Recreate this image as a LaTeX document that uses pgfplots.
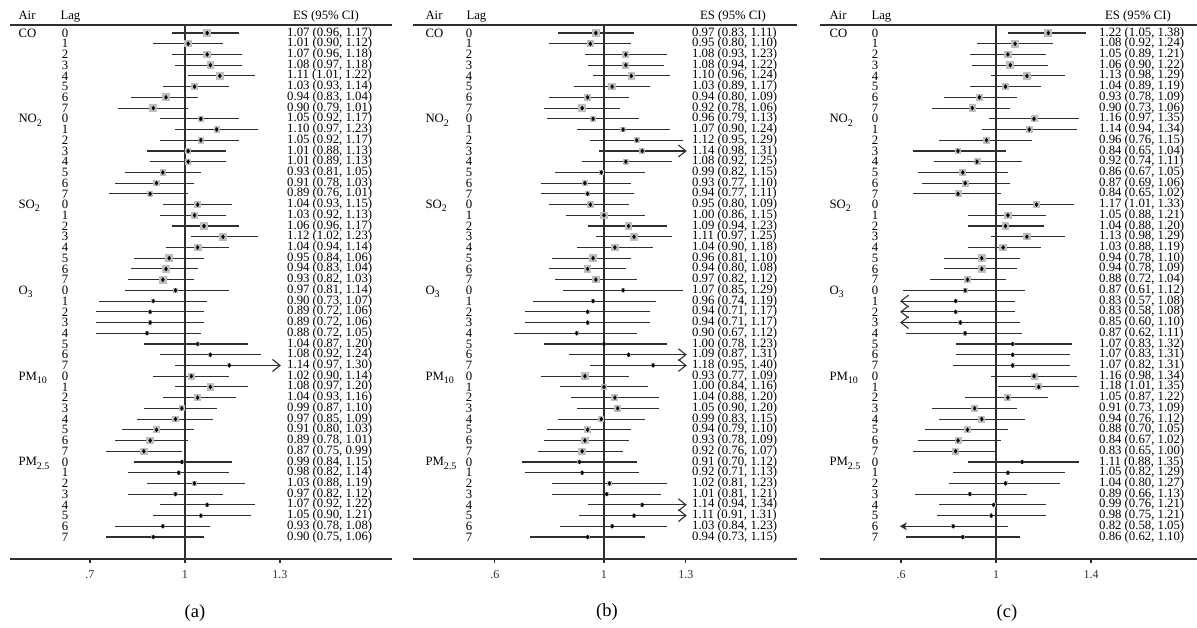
\documentclass[border=0pt]{standalone}
\usepackage{fontspec}
\setmainfont{Liberation Serif}
\usepackage{pgfplots}
\usepackage{pgfplotstable}
\pgfplotsset{compat=1.18}
\pgfkeys{/pgf/number format/assume math mode=true}

\definecolor{boxgray}{HTML}{BEBEBE}
\definecolor{ink}{HTML}{2E2E2E}
\newcommand{\tabfont}{\fontsize{12.75}{13}\selectfont}
\newcommand{\two}[1]{\pgfmathprintnumber[fixed,fixed zerofill,precision=2]{#1}}
\newcommand{\sub}[1]{\raisebox{-3.2pt}{\fontsize{10}{10}\selectfont #1}}

% empty mark, used where only a label is drawn
\pgfdeclareplotmark{blank}{}
% open chevrons for CIs cut at the axis range
\pgfdeclareplotmark{chevR}{%
  \pgfpathmoveto{\pgfqpoint{-7.5pt}{6pt}}%
  \pgfpathlineto{\pgfqpoint{0pt}{0pt}}%
  \pgfpathlineto{\pgfqpoint{-7.5pt}{-6pt}}%
  \pgfusepathqstroke}
\pgfdeclareplotmark{chevL}{%
  \pgfpathmoveto{\pgfqpoint{7.5pt}{6pt}}%
  \pgfpathlineto{\pgfqpoint{0pt}{0pt}}%
  \pgfpathlineto{\pgfqpoint{7.5pt}{-6pt}}%
  \pgfusepathqstroke}
\pgfdeclareplotmark{headL}{%
  \pgfpathmoveto{\pgfqpoint{0pt}{0pt}}%
  \pgfpathlineto{\pgfqpoint{4.5pt}{2.5pt}}%
  \pgfpathlineto{\pgfqpoint{3.2pt}{0pt}}%
  \pgfpathlineto{\pgfqpoint{4.5pt}{-2.5pt}}%
  \pgfpathclose\pgfusepathqfillstroke}

% columns: lag, estimate, lower, upper, box half-size (pt)
\pgfplotstableread{
lag es lo hi w
0 1.07 0.96 1.17 3.3
1 1.01 0.90 1.12 3.2
2 1.07 0.96 1.18 3.2
3 1.08 0.97 1.18 3.3
4 1.11 1.01 1.22 3.4
5 1.03 0.93 1.14 3.3
6 0.94 0.83 1.04 3.4
7 0.90 0.79 1.01 3.4
0 1.05 0.92 1.17 2.8
1 1.10 0.97 1.23 2.6
2 1.05 0.92 1.17 2.8
3 1.01 0.88 1.13 2.4
4 1.01 0.89 1.13 2.5
5 0.93 0.81 1.05 2.8
6 0.91 0.78 1.03 2.6
7 0.89 0.76 1.01 2.4
0 1.04 0.93 1.15 3.1
1 1.03 0.92 1.13 3.3
2 1.06 0.96 1.17 3.3
3 1.12 1.02 1.23 3.3
4 1.04 0.94 1.14 3.4
5 0.95 0.84 1.06 3.4
6 0.94 0.83 1.04 3.4
7 0.93 0.82 1.03 3.4
0 0.97 0.81 1.14 2.0
1 0.90 0.73 1.07 1.6
2 0.89 0.72 1.06 1.6
3 0.89 0.72 1.06 1.6
4 0.88 0.72 1.05 1.5
5 1.04 0.87 1.20 1.5
6 1.08 0.92 1.24 1.5
7 1.14 0.97 1.30 1.5
0 1.02 0.90 1.14 3.0
1 1.08 0.97 1.20 3.2
2 1.04 0.93 1.16 3.0
3 0.99 0.87 1.10 2.6
4 0.97 0.85 1.09 2.8
5 0.91 0.80 1.03 3.2
6 0.89 0.78 1.01 3.2
7 0.87 0.75 0.99 3.2
0 0.99 0.84 1.15 1.5
1 0.98 0.82 1.14 1.6
2 1.03 0.88 1.19 1.6
3 0.97 0.82 1.12 1.6
4 1.07 0.92 1.22 1.6
5 1.05 0.90 1.21 1.5
6 0.93 0.78 1.08 1.6
7 0.90 0.75 1.06 1.6
}\tabA

\pgfplotstableread{
lag es lo hi w
0 0.97 0.83 1.11 3.3
1 0.95 0.80 1.10 3.0
2 1.08 0.93 1.23 3.0
3 1.08 0.94 1.22 3.0
4 1.10 0.96 1.24 3.2
5 1.03 0.89 1.17 3.2
6 0.94 0.80 1.09 3.2
7 0.92 0.78 1.06 3.3
0 0.96 0.79 1.13 2.8
1 1.07 0.90 1.24 2.4
2 1.12 0.95 1.29 2.6
3 1.14 0.98 1.31 2.4
4 1.08 0.92 1.25 2.5
5 0.99 0.82 1.15 2.2
6 0.93 0.77 1.10 2.2
7 0.94 0.77 1.11 2.0
0 0.95 0.80 1.09 3.3
1 1.00 0.86 1.15 3.3
2 1.09 0.94 1.23 3.3
3 1.11 0.97 1.25 3.3
4 1.04 0.90 1.18 3.3
5 0.96 0.81 1.10 3.3
6 0.94 0.80 1.08 3.3
7 0.97 0.82 1.12 3.3
0 1.07 0.85 1.29 1.6
1 0.96 0.74 1.19 1.8
2 0.94 0.71 1.17 1.5
3 0.94 0.71 1.17 1.5
4 0.90 0.67 1.12 1.5
5 1.00 0.78 1.23 1.5
6 1.09 0.87 1.31 1.5
7 1.18 0.95 1.40 1.5
0 0.93 0.77 1.09 3.3
1 1.00 0.84 1.16 2.8
2 1.04 0.88 1.20 3.0
3 1.05 0.90 1.20 3.0
4 0.99 0.83 1.15 2.6
5 0.94 0.79 1.10 3.2
6 0.93 0.78 1.09 3.2
7 0.92 0.76 1.07 3.2
0 0.91 0.70 1.12 1.5
1 0.92 0.71 1.13 1.6
2 1.02 0.81 1.23 1.6
3 1.01 0.81 1.21 1.5
4 1.14 0.94 1.34 1.6
5 1.11 0.91 1.31 1.5
6 1.03 0.84 1.23 1.5
7 0.94 0.73 1.15 1.5
}\tabB

\pgfplotstableread{
lag es lo hi w
0 1.22 1.05 1.38 3.3
1 1.08 0.92 1.24 3.3
2 1.05 0.89 1.21 3.3
3 1.06 0.90 1.22 3.3
4 1.13 0.98 1.29 3.3
5 1.04 0.89 1.19 3.3
6 0.93 0.78 1.09 3.3
7 0.90 0.73 1.06 3.2
0 1.16 0.97 1.35 3.0
1 1.14 0.94 1.34 3.0
2 0.96 0.76 1.15 2.8
3 0.84 0.65 1.04 2.8
4 0.92 0.74 1.11 3.0
5 0.86 0.67 1.05 3.0
6 0.87 0.69 1.06 3.0
7 0.84 0.65 1.02 3.0
0 1.17 1.01 1.33 3.3
1 1.05 0.88 1.21 3.3
2 1.04 0.88 1.20 3.3
3 1.13 0.98 1.29 3.2
4 1.03 0.88 1.19 3.2
5 0.94 0.78 1.10 3.3
6 0.94 0.78 1.09 3.3
7 0.88 0.72 1.04 3.3
0 0.87 0.61 1.12 2.0
1 0.83 0.57 1.08 1.6
2 0.83 0.58 1.08 1.6
3 0.85 0.60 1.10 1.6
4 0.87 0.62 1.11 1.8
5 1.07 0.83 1.32 1.6
6 1.07 0.83 1.31 1.6
7 1.07 0.82 1.31 1.6
0 1.16 0.98 1.34 3.0
1 1.18 1.01 1.35 3.0
2 1.05 0.87 1.22 3.0
3 0.91 0.73 1.09 3.0
4 0.94 0.76 1.12 3.0
5 0.88 0.70 1.05 3.0
6 0.84 0.67 1.02 3.0
7 0.83 0.65 1.00 3.0
0 1.11 0.88 1.35 1.6
1 1.05 0.82 1.29 1.5
2 1.04 0.80 1.27 1.5
3 0.89 0.66 1.13 1.6
4 0.99 0.76 1.21 1.6
5 0.98 0.75 1.21 1.5
6 0.82 0.58 1.05 1.5
7 0.86 0.62 1.10 1.5
}\tabC

\pgfplotsset{
  forest/.style={
    anchor=north west, scale only axis, height=534pt,
    ymin=-0.746, ymax=49.05, y dir=reverse, ytick=\empty,
    axis x line*=box, axis y line=none,
    xtick pos=bottom, tick align=outside, major tick length=4pt,
    axis line style={line width=1.3pt, ink},
    x tick style={line width=1.2pt, ink},
    xticklabel style={font=\fontsize{12}{12}\selectfont, yshift=-4pt, text=ink},
    clip=false},
  refline/.style={line width=1.5pt, ink, mark=none},
  boxes/.style={scatter, only marks, mark=square*, point meta=y,
    scatter/use mapped color={draw=boxgray, fill=boxgray},
    mark options={draw=boxgray, fill=boxgray, line width=0pt},
    visualization depends on={\thisrow{w}\as\vw},
    scatter/@pre marker code/.append style={/tikz/mark size=\vw}},
  ci/.style={only marks, mark=blank,
    error bars/.cd, x dir=both, x explicit, error mark=none,
    error bar style={line width=1.1pt, draw=ink}},
  pts/.style={only marks, mark=diamond*, mark size=2pt, black},
  estext/.style={scatter, only marks, mark=blank, point meta=y,
    visualization depends on={\thisrow{es}\as\ves},
    visualization depends on={\thisrow{lo}\as\vlo},
    visualization depends on={\thisrow{hi}\as\vhi},
    scatter/@pre marker code/.append code={%
      \node[anchor=west, inner sep=0pt, text=black, font=\tabfont]
        {\two{\ves} (\two{\vlo}, \two{\vhi})};}},
  lagtext/.style={scatter, only marks, mark=blank, point meta=y,
    visualization depends on={\thisrow{lag}\as\vlag},
    scatter/@pre marker code/.append code={%
      \node[anchor=center, inner sep=0pt, text=black, font=\tabfont]
        {\pgfmathprintnumber[fixed,precision=0]{\vlag}};}},
  cut/.style={only marks, mark=#1, mark options={line width=1.1pt, ink, fill=ink}},
}

\newcommand{\panelhead}[3]{% air x, lag x, ES centre x
  \node[anchor=base west, font=\tabfont] at (#1pt,-19pt) {Air};
  \node[anchor=base west, font=\tabfont] at (#2pt,-19pt) {Lag};
  \node[anchor=base, font=\tabfont] at (#3pt,-19pt) {ES (95\% CI)};
  \node[anchor=base west, font=\tabfont] at (#1pt,-37pt) {CO};
  \node[anchor=base west, font=\tabfont] at (#1pt,-122.8pt) {NO\sub{2}};
  \node[anchor=base west, font=\tabfont] at (#1pt,-208.6pt) {SO\sub{2}};
  \node[anchor=base west, font=\tabfont] at (#1pt,-294.4pt) {O\sub{3}};
  \node[anchor=base west, font=\tabfont] at (#1pt,-380.1pt) {PM\sub{10}};
  \node[anchor=base west, font=\tabfont] at (#1pt,-465.9pt) {PM\sub{2.5}};
}

\begin{document}
\begin{tikzpicture}
\useasboundingbox (0pt,0pt) rectangle (1197pt,-627pt);

% ---------------- (a)
\begin{axis}[forest, at={(10pt,-25pt)}, width=382pt,
  xmin=0.4474, xmax=1.6537,
  xtick={0.7,1,1.3}, xticklabels={.7,1,1.3}]
  \addplot[refline] coordinates {(1,-0.746) (1,49.05)};
  \addplot[boxes] table[x=es, y expr=\coordindex] {\tabA};
  \addplot[ci] table[x=es, y expr=\coordindex,
    x error plus expr={min(\thisrow{hi},1.3)-\thisrow{es}},
    x error minus expr={\thisrow{es}-max(\thisrow{lo},0.7)}] {\tabA};
  \addplot[pts] table[x=es, y expr=\coordindex] {\tabA};
  \addplot[cut=chevR] coordinates {(1.3,31)};
  \addplot[lagtext] table[x expr=0.6211, y expr=\coordindex] {\tabA};
  \addplot[estext] table[x expr=1.3221, y expr=\coordindex] {\tabA};
\end{axis}
\panelhead{15}{57}{326}
\node[font=\fontsize{18.5}{19}\selectfont] at (195pt,-613pt) {(a)};

% ---------------- (b)
\begin{axis}[forest, at={(413pt,-25pt)}, width=384pt,
  xmin=0.3004, xmax=1.707,
  xtick={0.6,1,1.3}, xticklabels={.6,1,1.3}]
  \addplot[refline] coordinates {(1,-0.746) (1,49.05)};
  \addplot[boxes] table[x=es, y expr=\coordindex] {\tabB};
  \addplot[ci] table[x=es, y expr=\coordindex,
    x error plus expr={min(\thisrow{hi},1.3)-\thisrow{es}},
    x error minus expr={\thisrow{es}-max(\thisrow{lo},0.6)}] {\tabB};
  \addplot[pts] table[x=es, y expr=\coordindex] {\tabB};
  \addplot[cut=chevR] coordinates {(1.3,11) (1.3,30) (1.3,31) (1.3,44) (1.3,45)};
  \addplot[lagtext] table[x expr=0.5055, y expr=\coordindex] {\tabB};
  \addplot[estext] table[x expr=1.3223, y expr=\coordindex] {\tabB};
\end{axis}
\panelhead{422}{463}{733}
\node[font=\fontsize{18.5}{19}\selectfont] at (607pt,-612pt) {(b)};

% ---------------- (c)
\begin{axis}[forest, at={(820pt,-25pt)}, width=377pt,
  xmin=0.2589, xmax=1.8463,
  xtick={0.6,1,1.4}, xticklabels={.6,1,1.4}]
  \addplot[refline] coordinates {(1,-0.746) (1,49.05)};
  \addplot[boxes] table[x=es, y expr=\coordindex] {\tabC};
  \addplot[ci] table[x=es, y expr=\coordindex,
    x error plus expr={min(\thisrow{hi},1.4)-\thisrow{es}},
    x error minus expr={\thisrow{es}-max(\thisrow{lo},0.6)}] {\tabC};
  \addplot[pts] table[x=es, y expr=\coordindex] {\tabC};
  \addplot[cut=chevL] coordinates {(0.6,25) (0.6,26) (0.6,27)};
  \addplot[cut=headL] coordinates {(0.6,46)};
  \addplot[lagtext] table[x expr=0.4905, y expr=\coordindex] {\tabC};
  \addplot[estext] table[x expr=1.4337, y expr=\coordindex] {\tabC};
\end{axis}
\panelhead{826}{868}{1138}
\node[font=\fontsize{18.5}{19}\selectfont] at (1007pt,-613pt) {(c)};
\end{tikzpicture}
\end{document}
